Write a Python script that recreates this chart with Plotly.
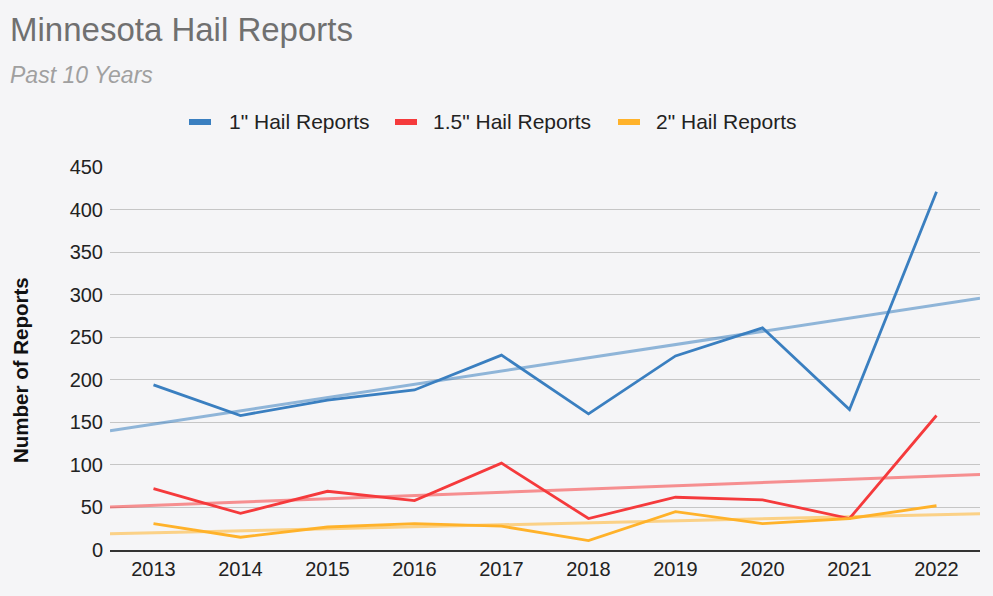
import numpy as np
import plotly.graph_objects as go

years = [2013, 2014, 2015, 2016, 2017, 2018, 2019, 2020, 2021, 2022]
hail_1in = [194, 158, 176, 188, 229, 160, 228, 261, 165, 421]
hail_15in = [72, 43, 69, 58, 102, 37, 62, 59, 37, 158]
hail_2in = [31, 15, 27, 31, 28, 11, 45, 31, 37, 52]

series = [
    ('1" Hail Reports', hail_1in, '#3a7fc0', 'rgba(58,127,192,0.55)'),
    ('1.5" Hail Reports', hail_15in, '#f53a3c', 'rgba(245,58,60,0.55)'),
    ('2" Hail Reports', hail_2in, '#ffb22a', 'rgba(255,178,42,0.55)'),
]

# plot area in pixels (used to place title/legend in paper coords)
L, R, T, B = 110, 980, 167, 550
def px(x):
    return (x - L) / (R - L)
def py(y):
    return (B - y) / (B - T)

fig = go.Figure()

# trendlines first so the data lines sit on top
x_span = [years[0] - 0.5, years[-1] + 0.5]
for name, vals, col, tcol in series:
    slope, icept = np.polyfit(years, vals, 1)
    fig.add_trace(go.Scatter(
        x=x_span, y=[slope * x + icept for x in x_span],
        mode='lines', line=dict(color=tcol, width=3),
        showlegend=False, hoverinfo='skip'
    ))

for name, vals, col, tcol in series:
    fig.add_trace(go.Scatter(
        x=years, y=vals, name=name, mode='lines',
        line=dict(color=col, width=2.8), showlegend=False
    ))

# hand-placed legend, google-sheets style short bars
legend_mark_x = [189, 395, 618]
legend_text_x = [227, 431, 654]
shapes = []
annos = []
for (name, vals, col, tcol), mx, tx in zip(series, legend_mark_x, legend_text_x):
    shapes.append(dict(type='line', xref='paper', yref='paper',
                       x0=px(mx), x1=px(mx + 22), y0=py(122), y1=py(122),
                       line=dict(color=col, width=6)))
    annos.append(dict(text=name, xref='paper', yref='paper', x=px(tx), y=py(122),
                      xanchor='left', yanchor='middle', showarrow=False,
                      font=dict(size=21, color='#222222')))

annos += [
    dict(text='Minnesota Hail Reports', xref='paper', yref='paper',
         x=px(8), y=py(29), xanchor='left', yanchor='middle', showarrow=False,
         font=dict(size=33, color='#707070')),
    dict(text='<i>Past 10 Years</i>', xref='paper', yref='paper',
         x=px(8), y=py(75), xanchor='left', yanchor='middle', showarrow=False,
         font=dict(size=23, color='#a0a0a0')),
    dict(text='<b>Number of Reports</b>', xref='paper', yref='paper',
         x=px(20), y=py(370), xanchor='center', yanchor='middle', showarrow=False,
         textangle=-90, font=dict(size=20.5, color='#111111')),
]

fig.update_layout(
    width=993, height=596,
    paper_bgcolor='#f5f5f7', plot_bgcolor='#f5f5f7',
    font=dict(family='Arial, Liberation Sans, sans-serif', color='#222222', size=20),
    margin=dict(l=L, r=993 - R, t=T, b=596 - B),
    showlegend=False,
    shapes=shapes,
    annotations=annos,
)

fig.update_xaxes(
    range=x_span, tickvals=years, ticktext=[str(y) for y in years],
    showgrid=False, showline=True, linecolor='#333333', linewidth=1.5,
    ticks='', tickfont=dict(size=20), zeroline=False
)
fig.update_yaxes(
    range=[0, 450], dtick=50, gridcolor='#c6c6c6', gridwidth=1.3,
    zeroline=False, showline=False, tickfont=dict(size=20), ticklabelstandoff=6
)

fig.write_html("out.html", config={'displayModeBar': False},
               post_script="document.body.style.margin='0px';")
